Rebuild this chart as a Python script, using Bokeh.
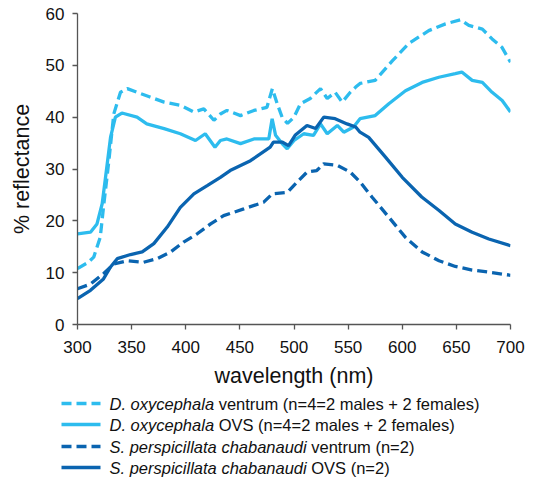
from bokeh.plotting import figure
from bokeh.models import Range1d, FixedTicker
from bokeh.layouts import column
from bokeh.embed import file_html
from bokeh.resources import INLINE
from bokeh.core.properties import value

# ---------------- data ----------------
x_ticks = [300, 350, 400, 450, 500, 550, 600, 650, 700]
y_ticks = [0, 10, 20, 30, 40, 50, 60]

wl_do_ventrum = [300, 310, 315, 321, 324, 329, 333.5, 339.7, 346, 355, 367, 380, 395,
                 407.5, 416.7, 426, 432, 438, 450.6, 463, 475, 480, 484.5, 489, 494,
                 500, 506, 515, 524.5, 530.7, 538, 544.5, 552, 557, 561, 575, 591,
                 606, 624.5, 640, 654, 661.5, 674, 683, 692, 700]
do_ventrum = [10.8, 12.0, 13.0, 16.8, 22.6, 31.6, 40.6, 44.8, 45.5, 44.8, 43.9, 42.9, 42.3,
              41.0, 41.6, 39.4, 40.6, 41.3, 40.3, 41.3, 41.9, 45.5, 42.6, 40.0, 38.8,
              40.0, 42.6, 43.6, 45.5, 43.6, 44.8, 42.9, 44.8, 45.8, 46.5, 47.1, 50.9,
              54.2, 56.7, 58.0, 58.8, 57.7, 57.0, 55.1, 53.5, 50.6]

wl_do_ovs = [300, 312, 318, 322.8, 325.9, 330.5, 335, 341, 355, 364, 380, 395, 409, 418,
             427, 432, 438, 450.6, 463, 476.7, 479.8, 483, 489, 493.7, 500, 509, 518,
             524.5, 530.7, 540, 546, 555, 561, 575, 587.6, 603, 618.4, 633.8, 649, 655,
             664.6, 674, 683, 692.3, 700]
do_ovs = [17.5, 17.8, 19.4, 23.3, 28.4, 36.1, 40.0, 40.8, 40.0, 38.7, 37.8, 36.8, 35.5, 36.8,
          34.2, 35.5, 35.8, 34.9, 35.8, 35.8, 39.7, 36.5, 34.9, 33.9, 35.5, 36.8, 36.5,
          38.7, 36.8, 38.4, 37.1, 38.1, 39.7, 40.3, 42.6, 45.1, 46.7, 47.7, 48.4, 48.7,
          47.1, 46.7, 44.8, 43.2, 41.0]

wl_sp_ventrum = [300, 312, 324, 333.5, 346, 361, 373.6, 386, 398, 410.6, 423, 435, 453.6,
                 472, 480, 494, 503, 512, 521, 527.5, 540, 552, 561, 572, 587.6, 603,
                 618.4, 634, 649, 664.6, 680, 700]
sp_ventrum = [6.9, 7.8, 9.8, 11.7, 12.3, 12.0, 12.7, 14.0, 15.9, 17.5, 19.4, 21.0, 22.3,
              23.6, 25.2, 25.5, 27.5, 29.4, 29.7, 31.0, 30.7, 29.4, 27.5, 24.6, 20.7, 16.8,
              14.0, 12.3, 11.2, 10.5, 10.1, 9.5]

wl_sp_ovs = [300, 312, 324, 330.5, 336.7, 349, 359.8, 370.5, 382.9, 395, 407.5, 419.8, 432,
             441, 459.8, 478, 481, 489, 495, 501, 512, 520, 527.5, 538, 549, 557, 561,
             569, 584.5, 600, 618, 634, 649, 664.6, 680, 700]
sp_ovs = [5.0, 6.6, 8.8, 11.1, 12.7, 13.5, 14.0, 15.6, 18.8, 22.6, 25.2, 26.8, 28.4,
          29.7, 31.6, 34.2, 35.2, 35.2, 34.5, 36.5, 38.4, 37.8, 40.0, 39.7, 38.7, 38.1, 37.1,
          36.1, 32.3, 28.4, 24.6, 22.0, 19.4, 17.8, 16.5, 15.2]

legend_italic = ["D. oxycephala", "D. oxycephala",
                 "S. perspicillata chabanaudi", "S. perspicillata chabanaudi"]
legend_plain = ["ventrum (n=4=2 males + 2 females)", "OVS (n=4=2 males + 2 females)",
                "ventrum (n=2)", "OVS (n=2)"]

LIGHT = "#2DBCEE"
DARK = "#0A64B0"
FONT = "Liberation Sans"
DASH = "10 5"

# ---------------- main plot ----------------
W = 526
MAIN_H = 390
p = figure(width=W, height=MAIN_H, output_backend="svg", toolbar_location=None,
           x_range=Range1d(300, 700), y_range=Range1d(0, 60),
           min_border_left=77, min_border_right=16, min_border_top=13, min_border_bottom=66)
p.frame_align = False
p.outline_line_color = None
p.grid.visible = False
p.background_fill_color = "white"
p.border_fill_color = "white"

p.line(wl_do_ventrum, do_ventrum, line_color=LIGHT, line_width=3.3, line_dash=DASH)
p.line(wl_do_ovs, do_ovs, line_color=LIGHT, line_width=3.3)
p.line(wl_sp_ventrum, sp_ventrum, line_color=DARK, line_width=3.3, line_dash=DASH)
p.line(wl_sp_ovs, sp_ovs, line_color=DARK, line_width=3.3)

p.xaxis.ticker = FixedTicker(ticks=x_ticks)
p.yaxis.ticker = FixedTicker(ticks=y_ticks)
for ax in (p.xaxis, p.yaxis):
    ax.axis_line_color = "#555555"
    ax.axis_line_width = 1.3
    ax.major_tick_line_color = "#555555"
    ax.major_tick_line_width = 1.3
    ax.major_tick_out = 5
    ax.major_tick_in = 0
    ax.minor_tick_line_color = None
    ax.major_label_text_font = FONT
    ax.major_label_text_font_size = "17px"
    ax.major_label_text_color = "#111111"
    ax.axis_label_text_font = FONT
    ax.axis_label_text_font_size = "21.5px"
    ax.axis_label_text_font_style = "normal"
    ax.axis_label_text_color = "#111111"

p.xaxis.axis_label = "wavelength (nm)"
p.yaxis.axis_label = "% reflectance"
p.xaxis.major_label_standoff = 11
p.xaxis.axis_label_standoff = 8
p.yaxis.major_label_standoff = 8
p.yaxis.axis_label_standoff = 9

# ---------------- legend panel ----------------
LH = 90
lg = figure(width=W, height=LH, output_backend="svg", toolbar_location=None,
            x_range=Range1d(0, W), y_range=Range1d(LH, 0),
            min_border=0, min_border_left=0, min_border_right=0,
            min_border_top=0, min_border_bottom=0)
lg.frame_align = False
lg.axis.visible = False
lg.grid.visible = False
lg.outline_line_color = None

row_y = [13, 34, 56, 77]
row_colors = [LIGHT, LIGHT, DARK, DARK]
row_dash = [DASH, "solid", DASH, "solid"]
sample_x0, sample_x1, text_x = 61, 100, 109
FS = 16.5
# Arial/Liberation advance widths (1/1000 em) of the italic names, plus one space
italic_w = {"D. oxycephala": 6336 + 278, "S. perspicillata chabanaudi": 11950 + 278}

for i in range(4):
    lg.line([sample_x0, sample_x1], [row_y[i], row_y[i]], line_color=row_colors[i],
            line_width=3.5, line_dash=row_dash[i])
    lg.text([text_x], [row_y[i]], text=[legend_italic[i]], text_font=value(FONT),
            text_font_size=f"{FS}px", text_font_style="italic", text_color="#111111",
            text_baseline="middle", text_align="left")
    lg.text([text_x + italic_w[legend_italic[i]] * FS / 1000.0], [row_y[i]],
            text=[legend_plain[i]],
            text_font=value(FONT), text_font_size=f"{FS}px", text_font_style="normal",
            text_color="#111111", text_baseline="middle", text_align="left")

layout = column(p, lg, spacing=0)
open("out.html", "w").write(file_html(layout, INLINE))
